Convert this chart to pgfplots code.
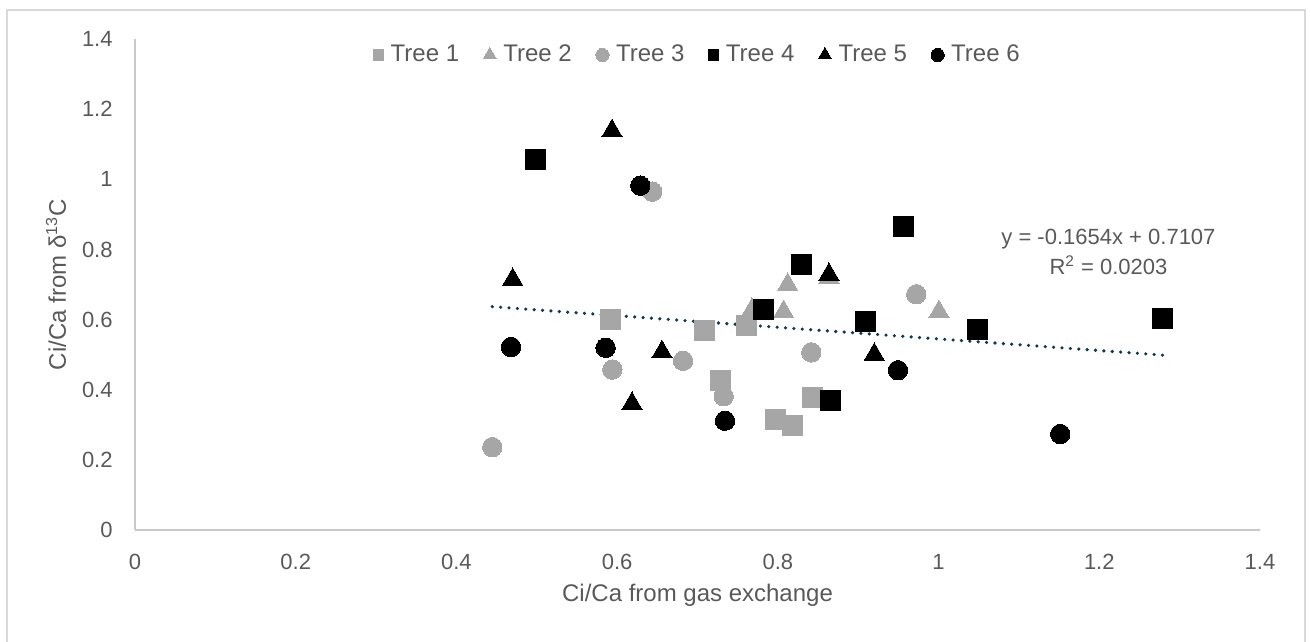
\documentclass[border=0pt]{standalone}
\usepackage{fontspec}
\setmainfont{Liberation Sans}
\usepackage{pgfplots}
\pgfplotsset{compat=1.18}
\definecolor{txt}{HTML}{595959}
\definecolor{mgray}{HTML}{A6A6A6}
\definecolor{framec}{HTML}{D9D9D9}
\definecolor{axisc}{HTML}{C8C8C8}
\definecolor{trend}{HTML}{0E3A4F}
\begin{document}
\begin{tikzpicture}
\begin{axis}[
  at={(0,0)}, anchor=south west,
  scale only axis, width=562.5pt, height=245.65pt,
  xmin=0, xmax=1.4, ymin=0, ymax=1.4,
  xtick={0,0.2,0.4,0.6,0.8,1,1.2,1.4},
  ytick={0,0.2,0.4,0.6,0.8,1,1.2,1.4},
  axis x line*=bottom, axis y line*=left,
  axis line style={axisc, line width=0.9pt, -},
  major tick length=0pt,
  /pgf/number format/assume math mode=true,
  tick label style={font=\fontsize{11}{13}\selectfont, text=txt},
  xticklabel style={anchor=center, yshift=-16pt},
  yticklabel style={anchor=east, inner sep=0pt, xshift=-11pt},
  xlabel={Ci/Ca from gas exchange},
  ylabel={Ci/Ca from δ\textsuperscript{13}C},
  xlabel style={at={(axis description cs:0.5,-0.1323)}, anchor=center, font=\fontsize{12}{14}\selectfont, text=txt},
  ylabel style={at={(axis description cs:-0.0702,0.5)}, anchor=center, font=\fontsize{12}{14}\selectfont, text=txt},
  legend columns=6,
  legend style={at={(axis description cs:0.5,1)}, anchor=center, yshift=-8pt, xshift=0pt,
    draw=none, fill=none, font=\fontsize{12}{14}\selectfont, text=txt,
    nodes={inner sep=1pt},
    /tikz/every odd column/.append style={column sep=2.5pt},
    /tikz/every even column/.append style={column sep=11pt}},
  legend image code/.code={\draw[#1] plot coordinates {(0pt,0pt)};},
  clip=false,
]
\addplot[only marks, mark=square*, mark size=5pt, mark options={draw=mgray, fill=mgray, line width=0pt},
  legend image post style={mark size=2.6pt}] coordinates {
  (0.5915,0.600) (0.7084,0.570) (0.728,0.426) (0.761,0.583) (0.8433,0.378) (0.7968,0.315) (0.8176,0.300)};
\addlegendentry{Tree 1}
\addplot[only marks, mark=triangle*, mark size=5.8pt, mark options={draw=mgray, fill=mgray, line width=0pt},
  legend image post style={mark size=3.8pt}] coordinates {
  (0.7678,0.629) (0.8072,0.623) (0.8122,0.7005) (0.8636,0.721) (1.0005,0.623)};
\addlegendentry{Tree 2}
\addplot[only marks, mark=*, mark size=4.85pt, mark options={draw=mgray, fill=mgray, line width=0pt},
  legend image post style={mark size=3.3pt}] coordinates {
  (0.6437,0.965) (0.682,0.483) (0.594,0.458) (0.7326,0.382) (0.4446,0.237) (0.9722,0.6725) (0.8416,0.507)};
\addlegendentry{Tree 3}
\addplot[only marks, mark=square*, mark size=5pt, mark options={draw=black, fill=black, line width=0pt},
  legend image post style={mark size=2.6pt}] coordinates {
  (0.4986,1.058) (0.9566,0.866) (0.830,0.758) (0.7823,0.628) (0.9088,0.5945) (1.0481,0.5717) (0.8649,0.3685) (1.2789,0.604)};
\addlegendentry{Tree 4}
\addplot[only marks, mark=triangle*, mark size=5.8pt, mark options={draw=black, fill=black, line width=0pt},
  legend image post style={mark size=3.8pt}] coordinates {
  (0.5936,1.1385) (0.470,0.7147) (0.6558,0.5087) (0.6185,0.3613) (0.8636,0.729) (0.920,0.501)};
\addlegendentry{Tree 5}
\addplot[only marks, mark=*, mark size=4.85pt, mark options={draw=black, fill=black, line width=0pt},
  legend image post style={mark size=3.3pt}] coordinates {
  (0.6288,0.982) (0.4679,0.5224) (0.5857,0.520) (0.7342,0.3123) (0.9495,0.456) (1.1514,0.2744)};
\addlegendentry{Tree 6}
\addplot[trend, line width=1.8pt, line cap=round, dash pattern=on 0pt off 4.2pt, forget plot] coordinates {
  (0.4446,0.6372) (1.2789,0.4992)};
\node[align=center, font=\fontsize{11}{15}\selectfont, text=txt] at (axis cs:1.2114,0.793)
  {y = -0.1654x + 0.7107\\R\textsuperscript{2} = 0.0203};
\end{axis}
\draw[framec, line width=1pt] (-64pt,-70pt) -- (-64pt,260.15pt) -- (585pt,260.15pt) -- (585pt,-70pt);
\pgfresetboundingbox
\useasboundingbox (-67.5pt,-55.85pt) rectangle (588pt,265.15pt);
\end{tikzpicture}
\end{document}
